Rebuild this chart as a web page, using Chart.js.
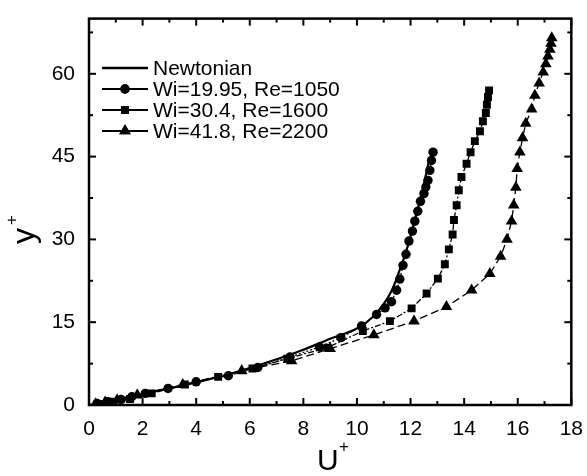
<!DOCTYPE html>
<html>
<head>
<meta charset="utf-8">
<script src="https://cdn.jsdelivr.net/npm/chart.js@4.4.0/dist/chart.umd.min.js"></script>
<style>
  html, body { margin: 0; padding: 0; background: #fff; }
</style>
</head>
<body>
<canvas id="profile" width="587" height="476"></canvas>
<script>
// mean velocity profiles, y+ against U+
const seriesNames = ['Newtonian', 'Wi=19.95, Re=1050', 'Wi=30.4, Re=1600', 'Wi=41.8, Re=2200'];

const newtU = [0, 1, 2, 3, 4, 5, 6, 7, 8, 9, 10.05, 10.6, 11.0, 11.25, 11.45, 11.62, 11.8, 11.98, 12.15, 12.35, 12.52, 12.7];
const newtY = [0, 1, 2, 3, 4.1, 5.3, 6.7, 8.3, 10.0, 12.0, 14.0, 16.0, 18.3, 20.3, 22.5, 24.8, 27.3, 30.2, 33.4, 37.0, 40.5, 44.5];

const wi1995U = [0.3, 0.7, 1.2, 1.6, 2.1, 2.95, 4.0, 5.2, 6.3, 7.5, 8.6, 9.4, 10.17, 10.73, 11.05, 11.29, 11.48, 11.6, 11.72, 11.83, 11.94, 12.07, 12.16, 12.27, 12.37, 12.5, 12.57, 12.65, 12.72, 12.78, 12.84];
const wi1995Y = [0.3, 0.6, 1.0, 1.5, 2.1, 3.0, 4.2, 5.3, 6.8, 8.7, 10.5, 12.2, 14.3, 16.4, 17.6, 18.7, 20.8, 22.8, 25.3, 27.3, 29.7, 31.5, 33.3, 35.1, 36.9, 38.3, 39.5, 40.7, 42.5, 44.3, 45.8];

const wi304U = [0.35, 0.8, 1.53, 2.34, 3.58, 4.82, 6.1, 7.4, 8.9, 10.22, 11.23, 12.04, 12.6, 13.02, 13.28, 13.43, 13.57, 13.62, 13.72, 13.8, 13.9, 14.09, 14.24, 14.4, 14.59, 14.7, 14.81, 14.85, 14.89, 14.93];
const wi304Y = [0.2, 0.6, 1.1, 2.1, 3.7, 5.1, 6.6, 8.4, 10.4, 13.4, 15.2, 17.5, 20.2, 22.9, 25.5, 28.2, 30.9, 33.5, 36.2, 38.9, 41.3, 43.7, 45.8, 47.8, 49.6, 51.4, 52.9, 54.4, 55.8, 57.0];

const wi418U = [0.25, 0.6, 1.05, 1.8, 3.5, 5.7, 7.56, 9.0, 10.63, 12.13, 13.34, 14.28, 14.96, 15.36, 15.6, 15.77, 15.85, 15.93, 15.98, 16.08, 16.18, 16.3, 16.52, 16.64, 16.8, 16.95, 17.05, 17.13, 17.2, 17.24, 17.27];
const wi418Y = [0.2, 0.5, 0.9, 1.8, 3.7, 6.2, 8.0, 10.2, 12.7, 15.2, 17.8, 20.8, 23.8, 26.9, 30.0, 33.3, 36.2, 39.4, 42.8, 45.8, 48.4, 51.0, 53.6, 56.1, 58.3, 60.3, 61.8, 63.2, 64.4, 65.5, 66.5];

const xTicks = [0, 2, 4, 6, 8, 10, 12, 14, 16, 18];
const xMinor = [1, 3, 5, 7, 9, 11, 13, 15, 17];
const yTicks = [0, 15, 30, 45, 60];
const yMinor = [7.5, 22.5, 37.5, 52.5, 67.5];

const toPoints = (us, ys) => us.map((u, i) => ({ x: u, y: ys[i] }));
const FONT = '"Liberation Sans", Arial, sans-serif';

// frame with inward ticks on all four sides, axis titles and the legend box
const frameAndLegend = {
  id: 'frameAndLegend',
  afterDatasetsDraw(chart) {
    const { ctx, chartArea: a, scales: { x, y } } = chart;
    ctx.save();
    ctx.strokeStyle = '#000';
    ctx.fillStyle = '#000';
    ctx.lineWidth = 2.5;
    ctx.strokeRect(a.left, a.top, a.right - a.left, a.bottom - a.top);

    ctx.lineWidth = 2;
    const tick = (x1, y1, x2, y2) => { ctx.beginPath(); ctx.moveTo(x1, y1); ctx.lineTo(x2, y2); ctx.stroke(); };
    const xt = (vals, len) => vals.forEach(v => {
      const px = x.getPixelForValue(v);
      tick(px, a.bottom, px, a.bottom - len);
      tick(px, a.top, px, a.top + len);
    });
    const yt = (vals, len) => vals.forEach(v => {
      const py = y.getPixelForValue(v);
      tick(a.left, py, a.left + len, py);
      tick(a.right, py, a.right - len, py);
    });
    xt(xTicks, 7); xt(xMinor, 4);
    yt(yTicks, 7); yt(yMinor, 4);

    // axis titles with superscript plus
    ctx.textBaseline = 'alphabetic';
    ctx.font = '30px ' + FONT;
    ctx.textAlign = 'left';
    ctx.fillText('U', 317, 470);
    ctx.font = '17px ' + FONT;
    ctx.fillText('+', 339, 452);

    ctx.save();
    ctx.translate(34, 244);
    ctx.rotate(-Math.PI / 2);
    ctx.font = '32px ' + FONT;
    ctx.fillText('y', 0, 0);
    ctx.font = '17px ' + FONT;
    ctx.fillText('+', 19, -17);
    ctx.restore();

    // legend
    ctx.font = '21px ' + FONT;
    ctx.textBaseline = 'middle';
    chart.data.datasets.forEach((ds, i) => {
      const rowY = 68 + i * 21;
      ctx.lineWidth = i === 0 ? 2.5 : 2;
      ctx.setLineDash([]);
      tick(102, rowY, 148, rowY);
      if (ds.pointRadius > 0) {
        Chart.helpers.drawPoint(ctx, { pointStyle: ds.pointStyle, radius: ds.pointRadius, rotation: 0, borderWidth: 0 }, 125, rowY);
        ctx.fill();
      }
      ctx.fillText(seriesNames[i], 153, rowY + 1);
    });
    ctx.restore();
  }
};

new Chart(document.getElementById('profile'), {
  type: 'scatter',
  data: {
    datasets: [
      { label: seriesNames[0], data: toPoints(newtU, newtY), showLine: true, borderColor: '#000', borderWidth: 2.2, pointRadius: 0, cubicInterpolationMode: 'monotone' },
      { label: seriesNames[1], data: toPoints(wi1995U, wi1995Y), showLine: true, borderColor: '#000', backgroundColor: '#000', borderWidth: 1.3, borderDash: [2, 2], pointStyle: 'circle', pointRadius: 4.7, pointBorderWidth: 0 },
      { label: seriesNames[2], data: toPoints(wi304U, wi304Y), showLine: true, borderColor: '#000', backgroundColor: '#000', borderWidth: 1.3, borderDash: [6, 2, 2, 2], pointStyle: 'rect', pointRadius: 5.6, pointBorderWidth: 0 },
      { label: seriesNames[3], data: toPoints(wi418U, wi418Y), showLine: true, borderColor: '#000', backgroundColor: '#000', borderWidth: 1.3, borderDash: [8, 4], pointStyle: 'triangle', pointRadius: 6.7, pointBorderWidth: 0 }
    ]
  },
  options: {
    responsive: false,
    animation: false,
    devicePixelRatio: 1,
    layout: { padding: { left: 0, top: 11, right: 13, bottom: 0 } },
    plugins: { legend: { display: false }, tooltip: { enabled: false } },
    scales: {
      x: {
        min: 0, max: 18,
        afterBuildTicks: s => { s.ticks = xTicks.map(v => ({ value: v })); },
        afterFit: s => { s.height = 71; },
        grid: { display: false }, border: { display: false },
        ticks: { color: '#000', font: { family: FONT, size: 21 }, padding: 4, maxRotation: 0 }
      },
      y: {
        min: 0, max: 70,
        afterBuildTicks: s => { s.ticks = yTicks.map(v => ({ value: v })); },
        afterFit: s => { s.width = 89; },
        grid: { display: false }, border: { display: false },
        ticks: { color: '#000', font: { family: FONT, size: 21 }, padding: 6 }
      }
    }
  },
  plugins: [frameAndLegend]
});
</script>
</body>
</html>
